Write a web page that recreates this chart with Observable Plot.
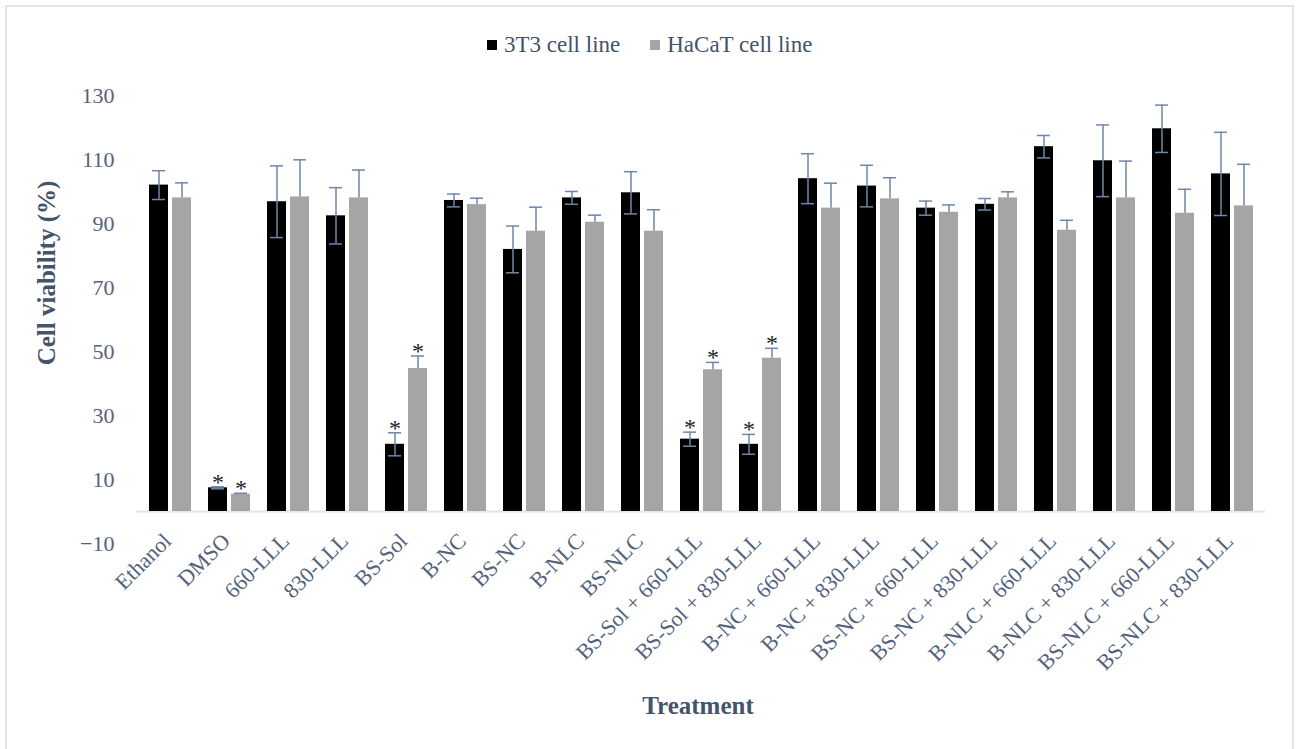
<!DOCTYPE html>
<html>
<head>
<meta charset="utf-8">
<script src="https://cdn.jsdelivr.net/npm/d3@7"></script>
<script src="https://cdn.jsdelivr.net/npm/@observablehq/plot@0.6"></script>
<style>
  body { margin: 0; background: #fff; }
  #wrap { position: relative; width: 1298px; height: 749px; overflow: hidden; }
  #frame { position: absolute; left: 5px; top: 5px; width: 1289px; height: 770px; border: 2px solid #e2e5eb; box-sizing: border-box; }
  #chart { position: absolute; left: 0; top: 0; }
  #legend { position: absolute; top: 32px; left: 487px; display: flex; align-items: center;
            font-family: "Liberation Serif", "Times New Roman", serif; font-size: 23px; color: #44546a; white-space: nowrap; }
  #legend span { font-family: "Liberation Serif", "Times New Roman", serif; }
  #legend .sw { width: 10px; height: 10px; display: inline-block; margin-right: 7px; }
  #legend .item { display: flex; align-items: center; margin-right: 30px; }
</style>
</head>
<body>
<div id="wrap">
  <div id="frame"></div>
  <div id="chart"></div>
  <div id="legend"></div>
</div>
<script>
// ---- data ----
const categories = ["Ethanol", "DMSO", "660-LLL", "830-LLL", "BS-Sol", "B-NC", "BS-NC", "B-NLC", "BS-NLC",
  "BS-Sol + 660-LLL", "BS-Sol + 830-LLL", "B-NC + 660-LLL", "B-NC + 830-LLL", "BS-NC + 660-LLL",
  "BS-NC + 830-LLL", "B-NLC + 660-LLL", "B-NLC + 830-LLL", "BS-NLC + 660-LLL", "BS-NLC + 830-LLL"];
const series = ["3T3 cell line", "HaCaT cell line"];
const viability3T3 = [102.0, 7.4, 96.8, 92.4, 21.0, 97.2, 81.9, 98.0, 99.6, 22.6, 21.0, 104.0, 101.7, 94.8, 96.0, 114.0, 109.6, 119.6, 105.5];
const sd3T3       = [4.5, 0.3, 11.2, 8.8, 3.6, 2.0, 7.3, 2.0, 6.6, 2.2, 3.1, 7.8, 6.5, 2.2, 1.8, 3.5, 11.2, 7.4, 13.0];
const viabilityHaCaT = [98.0, 5.4, 98.3, 98.0, 44.7, 95.9, 87.6, 90.4, 87.6, 44.3, 47.9, 94.8, 97.7, 93.5, 98.0, 87.9, 98.0, 93.2, 95.5];
const sdHaCaT       = [4.7, 0.3, 11.6, 8.7, 3.9, 2.0, 7.5, 2.2, 6.7, 2.3, 3.1, 7.8, 6.6, 2.3, 1.9, 3.1, 11.5, 7.5, 13.0];
const significant = [false, true, false, false, true, false, false, false, false, true, true, false, false, false, false, false, false, false, false];
const yTicks = [-10, 10, 30, 50, 70, 90, 110, 130];
const colors = ["#000000", "#a5a5a5"];

// ---- table ----
const rows = categories.map((c, i) => ({
  cat: c, v1: viability3T3[i], s1: sd3T3[i], v2: viabilityHaCaT[i], s2: sdHaCaT[i], sig: significant[i]
}));
const sigRows = rows.filter(d => d.sig);

const errColor = "#6f86aa";
const font = '"Liberation Serif", "Times New Roman", serif';
const textColor = "#44546a";

const chart = Plot.plot({
  width: 1298, height: 749,
  marginLeft: 136, marginRight: 33, marginTop: 95, marginBottom: 206,
  style: { fontFamily: font, background: "transparent", overflow: "visible" },
  x: { domain: categories, paddingInner: 0.293, paddingOuter: 0.1465 },
  y: { domain: [-10, 130] },
  marks: [
    Plot.axisY({ ticks: yTicks, tickSize: 0, tickPadding: 22, fontSize: 22, fill: "#52627c", label: null }),
    Plot.axisX({ tickSize: 0, tickPadding: 0, tickRotate: -45, fontSize: 22, fill: "#52627c", label: null, dy: -6, dx: -3 }),
    Plot.ruleY([0], { stroke: "#e3e6ec", strokeWidth: 2 }),
    Plot.barY(rows, { x: "cat", y: "v1", fill: colors[0], insetRight: 23 }),
    Plot.barY(rows, { x: "cat", y: "v2", fill: colors[1], insetLeft: 23 }),
    // error bars 3T3 (both directions)
    Plot.ruleX(rows, { x: "cat", y1: d => d.v1 - d.s1, y2: d => d.v1 + d.s1, dx: -11.5, stroke: errColor, strokeWidth: 1.5 }),
    Plot.tickY(rows, { x: "cat", y: d => d.v1 + d.s1, insetLeft: 3, insetRight: 26, stroke: errColor, strokeWidth: 1.5 }),
    Plot.tickY(rows, { x: "cat", y: d => d.v1 - d.s1, insetLeft: 3, insetRight: 26, stroke: errColor, strokeWidth: 1.5 }),
    // error bars HaCaT (upper)
    Plot.ruleX(rows, { x: "cat", y1: "v2", y2: d => d.v2 + d.s2, dx: 11.5, stroke: errColor, strokeWidth: 1.5 }),
    Plot.tickY(rows, { x: "cat", y: d => d.v2 + d.s2, insetLeft: 26, insetRight: 3, stroke: errColor, strokeWidth: 1.5 }),
    // significance asterisks
    Plot.text(sigRows, { x: "cat", y: d => d.v1 + d.s1, text: () => "*", dx: -11.5, dy: 3, lineAnchor: "bottom", fontSize: 24, fill: "#222" }),
    Plot.text(sigRows, { x: "cat", y: d => d.v2 + d.s2, text: () => "*", dx: 11.5, dy: 3, lineAnchor: "bottom", fontSize: 24, fill: "#222" })
  ]
});

const svg = d3.select(chart);
svg.append("text")
  .attr("transform", "translate(46,273) rotate(-90)")
  .attr("text-anchor", "middle").attr("dominant-baseline", "central")
  .attr("font-family", font).attr("font-weight", "bold").attr("font-size", 25).attr("fill", textColor)
  .text("Cell viability (%)");
svg.append("text")
  .attr("x", 698).attr("y", 705)
  .attr("text-anchor", "middle").attr("dominant-baseline", "central")
  .attr("font-family", font).attr("font-weight", "bold").attr("font-size", 25).attr("fill", textColor)
  .text("Treatment");

document.getElementById("chart").appendChild(chart);

const legend = d3.select("#legend");
series.forEach((s, i) => {
  const item = legend.append("div").attr("class", "item");
  item.append("span").attr("class", "sw").style("background", colors[i]);
  item.append("span").text(s);
});
</script>
</body>
</html>
